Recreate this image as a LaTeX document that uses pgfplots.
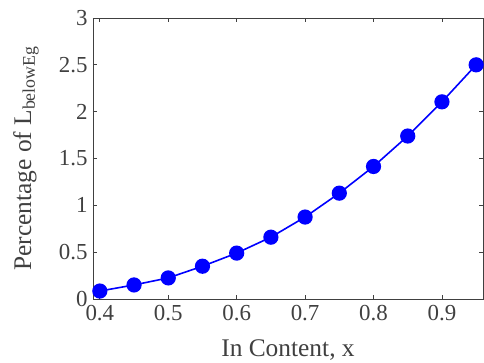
\documentclass[border=0pt]{standalone}
\usepackage{pgfplots}
\pgfplotsset{compat=1.18}
\usepackage{fontspec}
\setmainfont{Liberation Serif}
\definecolor{axgray}{RGB}{64,64,64}
\definecolor{lineblue}{RGB}{0,0,255}
\begin{document}
\begin{tikzpicture}
\path[use as bounding box] (-93bp,-64bp) rectangle (391bp,299bp);
\begin{axis}[
  at={(0,0)}, anchor=south west,
  scale only axis,
  width=390bp, height=281bp,
  xmin=0.39, xmax=0.96, ymin=0, ymax=3,
  xtick={0.4,0.5,0.6,0.7,0.8,0.9},
  xticklabels={0.4,0.5,0.6,0.7,0.8,0.9},
  ytick={0,0.5,1,1.5,2,2.5,3},
  yticklabels={0,0.5,1,1.5,2,2.5,3},
  tick align=inside,
  major tick length=4bp,
  axis line style={axgray, line width=0.8bp},
  every tick/.style={axgray, line width=0.8bp},
  tick label style={font=\fontsize{23}{25}\selectfont, text=axgray},
  xticklabel style={yshift=-3bp},
  yticklabel style={xshift=-2bp},
  label style={font=\fontsize{25.5}{28}\selectfont, text=axgray},
  xlabel={In Content, x},
  xlabel style={at={(axis description cs:0.5,-0.18)}, anchor=center},
  ylabel={Percentage of L\textsubscript{belowEg}},
  ylabel style={at={(axis description cs:-0.172,0.5)}, anchor=center, rotate=0},
  clip=false,
]
\addplot[color=lineblue, line width=1.6bp, mark=*, mark size=6.8bp, mark options={fill=lineblue, draw=lineblue}]
coordinates {
(0.40,0.085) (0.45,0.15) (0.50,0.225) (0.55,0.35) (0.60,0.49) (0.65,0.66)
(0.70,0.875) (0.75,1.13) (0.80,1.415) (0.85,1.74) (0.90,2.105) (0.95,2.50)
};
\end{axis}
\end{tikzpicture}
\end{document}
